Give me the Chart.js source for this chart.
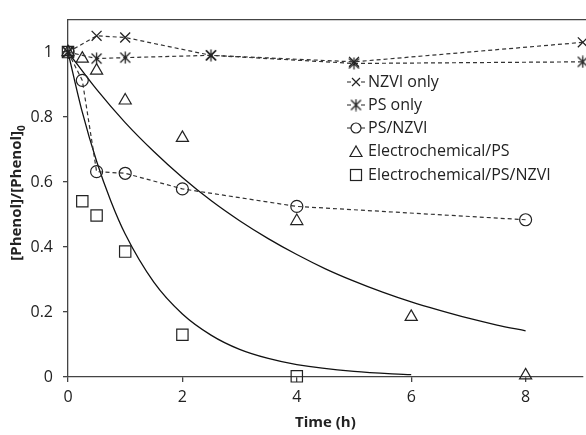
<!DOCTYPE html>
<html>
<head>
<meta charset="utf-8">
<script src="https://cdn.jsdelivr.net/npm/chart.js@4"></script>
<style>
  html, body { margin: 0; padding: 0; background: #fff; overflow: hidden; }
  #wrap { width: 592px; height: 435px; }
</style>
</head>
<body>
<div id="wrap"><canvas id="phenolChart"></canvas></div>
<script>
// measured points
const nzviOnly = [[0, 1], [0.5, 1.05], [1, 1.045], [2.5, 0.99], [5, 0.97], [9, 1.03]];
const psOnly = [[0, 1], [0.5, 0.98], [1, 0.983], [2.5, 0.99], [5, 0.965], [9, 0.97]];
const psNzvi = [[0, 1], [0.25, 0.913], [0.5, 0.632], [1, 0.627], [2, 0.579], [4, 0.525], [8, 0.484]];
const electroPs = [[0, 1], [0.25, 0.98], [0.5, 0.943], [1, 0.851], [2, 0.736], [4, 0.48], [6, 0.185], [8, 0.005]];
const electroPsNzvi = [[0, 1], [0.25, 0.541], [0.5, 0.497], [1, 0.386], [2, 0.13], [4, 0.002]];

// fitted curves
const fitPsTimes = [0, 0.5, 1, 1.5, 2, 2.5, 3, 3.5, 4, 4.5, 5, 5.5, 6, 6.5, 7, 7.5, 8];
const fitPsValues = [1, 0.885, 0.783, 0.694, 0.614, 0.543, 0.481, 0.426, 0.377, 0.333, 0.295, 0.261, 0.231, 0.205, 0.181, 0.160, 0.142];
const fitNzviTimes = [0, 0.25, 0.5, 0.75, 1, 1.5, 2, 2.5, 3, 3.5, 4, 5, 6];
const fitNzviValues = [1, 0.815, 0.664, 0.541, 0.44, 0.292, 0.194, 0.129, 0.085, 0.057, 0.038, 0.017, 0.007];

const xTicks = [0, 2, 4, 6, 8];
const yTicks = [0, 0.2, 0.4, 0.6, 0.8, 1];

const FONT = "'Open Sans', 'Noto Sans', sans-serif";
const INK = "#222";
const DASH = [4, 3];

const toXY = arr => arr.map(p => ({ x: p[0], y: p[1] }));
const fitXY = (xs, ys) => xs.map((x, i) => ({ x: x, y: ys[i] }));

// asterisk marker: X with a vertical bar
function makeStar(size) {
  const c = document.createElement("canvas");
  c.width = size; c.height = size;
  const g = c.getContext("2d");
  const m = size / 2, r = size / 2 - 1.5;
  g.strokeStyle = INK;
  g.lineWidth = 1.3;
  g.beginPath();
  g.moveTo(m - r, m - r); g.lineTo(m + r, m + r);
  g.moveTo(m + r, m - r); g.lineTo(m - r, m + r);
  g.moveTo(m, m - r - 1); g.lineTo(m, m + r + 1);
  g.stroke();
  return c;
}
const starImg = makeStar(13);

const frame = {
  id: "frame",
  afterDraw(chart) {
    const ctx = chart.ctx, a = chart.chartArea;
    ctx.save();
    // top border
    ctx.strokeStyle = "#444";
    ctx.lineWidth = 1.3;
    ctx.beginPath();
    ctx.moveTo(a.left, a.top);
    ctx.lineTo(chart.width, a.top);
    ctx.stroke();

    // axis titles
    ctx.fillStyle = INK;
    ctx.font = "bold 15px " + FONT;
    ctx.textAlign = "center";
    ctx.textBaseline = "middle";
    ctx.fillText("Time (h)", (a.left + a.right) / 2, 423);

    ctx.save();
    ctx.translate(17, 193);
    ctx.rotate(-Math.PI / 2);
    const main = "[Phenol]/[Phenol]";
    ctx.font = "bold 15px " + FONT;
    const w = ctx.measureText(main).width;
    ctx.font = "bold 10px " + FONT;
    const sw = ctx.measureText("0").width;
    const start = -(w + sw) / 2;
    ctx.textAlign = "left";
    ctx.font = "bold 15px " + FONT;
    ctx.fillText(main, start, 0);
    ctx.font = "bold 10px " + FONT;
    ctx.fillText("0", start + w, 5);
    ctx.restore();

    // legend
    const lx = 356, tx = 368;
    const rows = [82, 105, 128, 151.5, 175];
    const labels = ["NZVI only", "PS only", "PS/NZVI", "Electrochemical/PS", "Electrochemical/PS/NZVI"];
    ctx.strokeStyle = INK;
    ctx.lineWidth = 1.2;
    for (let i = 0; i < 3; i++) {
      const y = rows[i];
      ctx.beginPath();
      ctx.moveTo(lx - 9, y); ctx.lineTo(lx - 5, y);
      ctx.moveTo(lx + 5, y); ctx.lineTo(lx + 9, y);
      ctx.stroke();
    }
    ctx.beginPath();
    ctx.moveTo(lx - 4, rows[0] - 4); ctx.lineTo(lx + 4, rows[0] + 4);
    ctx.moveTo(lx + 4, rows[0] - 4); ctx.lineTo(lx - 4, rows[0] + 4);
    ctx.stroke();
    ctx.drawImage(starImg, lx - 6.5, rows[1] - 6.5);
    ctx.beginPath();
    ctx.arc(lx, rows[2], 5, 0, Math.PI * 2);
    ctx.stroke();
    ctx.beginPath();
    ctx.moveTo(lx - 6, rows[3] + 5); ctx.lineTo(lx + 6, rows[3] + 5); ctx.lineTo(lx, rows[3] - 5.5);
    ctx.closePath();
    ctx.stroke();
    ctx.strokeRect(lx - 5.5, rows[4] - 5.5, 11, 11);

    ctx.font = "16px " + FONT;
    ctx.textAlign = "left";
    labels.forEach((t, i) => ctx.fillText(t, tx, rows[i]));
    ctx.restore();
  }
};

const ctx = document.getElementById("phenolChart").getContext("2d");
new Chart(ctx, {
  type: "scatter",
  data: {
    datasets: [
      {
        label: "NZVI only",
        data: toXY(nzviOnly),
        showLine: true,
        borderColor: "#333",
        borderWidth: 1.2,
        borderDash: DASH,
        pointStyle: "crossRot",
        pointRadius: 7,
        pointBorderColor: INK,
        pointBorderWidth: 1.3,
        clip: false
      },
      {
        label: "PS only",
        data: toXY(psOnly),
        showLine: true,
        borderColor: "#333",
        borderWidth: 1.2,
        borderDash: DASH,
        pointStyle: starImg,
        pointRadius: 6,
        clip: false
      },
      {
        label: "PS/NZVI",
        data: toXY(psNzvi),
        showLine: true,
        borderColor: "#333",
        borderWidth: 1.2,
        borderDash: DASH,
        pointStyle: "circle",
        pointRadius: 6,
        pointBackgroundColor: "rgba(0,0,0,0)",
        pointBorderColor: INK,
        pointBorderWidth: 1.2
      },
      {
        label: "Electrochemical/PS",
        data: toXY(electroPs),
        showLine: false,
        pointStyle: "triangle",
        pointRadius: 7,
        pointBackgroundColor: "rgba(0,0,0,0)",
        pointBorderColor: INK,
        pointBorderWidth: 1.2,
        clip: false
      },
      {
        label: "Electrochemical/PS/NZVI",
        data: toXY(electroPsNzvi),
        showLine: false,
        pointStyle: "rect",
        pointRadius: 8,
        pointBackgroundColor: "rgba(0,0,0,0)",
        pointBorderColor: INK,
        pointBorderWidth: 1.2,
        clip: false
      },
      {
        label: "fit PS",
        data: fitXY(fitPsTimes, fitPsValues),
        showLine: true,
        borderColor: "#111",
        borderWidth: 1.3,
        pointRadius: 0,
        cubicInterpolationMode: "monotone"
      },
      {
        label: "fit PS/NZVI",
        data: fitXY(fitNzviTimes, fitNzviValues),
        showLine: true,
        borderColor: "#111",
        borderWidth: 1.3,
        pointRadius: 0,
        cubicInterpolationMode: "monotone"
      }
    ]
  },
  options: {
    responsive: true,
    maintainAspectRatio: false,
    animation: false,
    layout: { padding: { top: 9, right: 4, left: 0, bottom: 0 } },
    plugins: { legend: { display: false }, tooltip: { enabled: false } },
    scales: {
      x: {
        type: "linear",
        min: 0,
        max: 9,
        afterBuildTicks: s => { s.ticks = xTicks.map(v => ({ value: v })); },
        afterFit: s => { s.height = 58; },
        grid: { drawOnChartArea: false, drawTicks: true, tickLength: 5, color: "#444", lineWidth: 1.3 },
        border: { color: "#444", width: 1.3 },
        ticks: { color: INK, font: { family: FONT, size: 16 }, padding: 6 }
      },
      y: {
        min: 0,
        max: 1.1,
        afterBuildTicks: s => { s.ticks = yTicks.map(v => ({ value: v })); },
        afterFit: s => { s.width = 68; },
        grid: { drawOnChartArea: false, drawTicks: true, tickLength: 5, color: "#444", lineWidth: 1.3 },
        border: { color: "#444", width: 1.3 },
        ticks: {
          color: INK,
          font: { family: FONT, size: 16 },
          padding: 10,
          callback: v => String(+v.toFixed(1))
        }
      }
    }
  },
  plugins: [frame]
});
</script>
</body>
</html>
